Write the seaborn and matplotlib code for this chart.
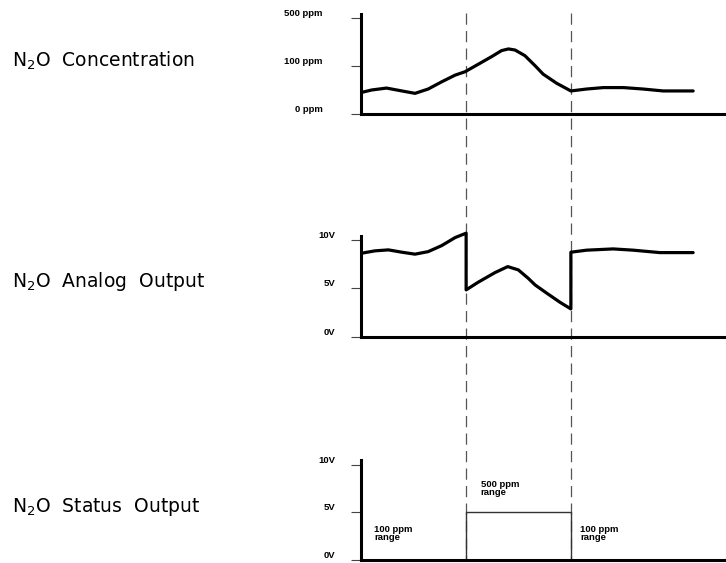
import numpy as np
import pandas as pd
import seaborn as sns
import matplotlib
matplotlib.use("Agg")
import matplotlib.pyplot as plt
from matplotlib.lines import Line2D
import matplotlib.transforms as mtransforms

# ---------------- data ----------------
conc_t = [0.2, 2.9, 7.0, 11.2, 14.8, 18.4, 22.1, 25.8, 28.5, 32.1, 35.8, 38.5, 40.4,
          42.2, 44.9, 47.7, 49.9, 53.6, 57.5, 61.8, 66.4, 71.9, 77.3, 82.8, 91.0]
conc_ppm = [45, 50, 54, 48, 43, 52, 67, 81, 88, 114, 178, 228, 242,
            233, 186, 102, 83, 64, 48, 52, 55, 55, 52, 48, 48]

analog_t = [0.2, 3.8, 7.5, 11.2, 14.8, 18.4, 22.1, 25.8, 28.8, 28.8, 32.1, 36.7, 40.2,
            43.1, 45.8, 47.7, 50.9, 54.5, 57.5, 57.5, 61.8, 69.1, 74.6, 81.9, 91.0]
analog_v = [8.63, 8.87, 8.97, 8.73, 8.53, 8.79, 9.41, 10.24, 10.69, 4.85, 5.64, 6.63, 7.25,
            6.91, 6.05, 5.36, 4.51, 3.58, 2.89, 8.73, 8.94, 9.07, 8.94, 8.69, 8.69]

status_t = [0, 28.8, 57.5, 100]
status_v = [0, 5, 0, 0]

range_switch_t = [28.8, 57.5]

conc_ticks = [0, 100, 500]
conc_ticklabels = ["0 ppm", "100 ppm", "500 ppm"]
volt_ticks = [0, 5, 10]
volt_ticklabels = ["0V", "5V", "10V"]

row_titles = [r"N$_2$O  Concentration", r"N$_2$O  Analog  Output", r"N$_2$O  Status  Output"]
range_notes = ["100 ppm\nrange", "500 ppm\nrange", "100 ppm\nrange"]
range_note_t = [3.6, 32.8, 60.0]
range_note_v = [3.7, 8.4, 3.7]

# ---------------- styling ----------------
sns.set_style("white")
plt.rcParams["font.family"] = ["DejaVu Sans"]

fig = plt.figure(figsize=(7.26, 5.63), dpi=100)
W, H = 726.0, 563.0

def axes_px(left, top, right, bottom):
    return fig.add_axes([left / W, 1 - bottom / H, (right - left) / W, (bottom - top) / H])

ax1 = axes_px(361, 14, 726, 114)
ax2 = axes_px(361, 236, 726, 337)
ax3 = axes_px(361, 460, 726, 560)

def fwd(y):
    y = np.asarray(y, dtype=float)
    return np.where(y <= 100, y / 100.0, 1 + (y - 100) / 400.0)

def inv(v):
    v = np.asarray(v, dtype=float)
    return np.where(v <= 1, v * 100.0, 100 + (v - 1) * 400.0)

ax1.set_yscale("function", functions=(fwd, inv))

sns.lineplot(x=conc_t, y=conc_ppm, ax=ax1, estimator=None, sort=False,
             color="black", lw=2.3, clip_on=False)
sns.lineplot(x=analog_t, y=analog_v, ax=ax2, estimator=None, sort=False,
             color="black", lw=2.3, clip_on=False)
sns.lineplot(x=status_t, y=status_v, ax=ax3, estimator=None, sort=False,
             color="#333333", lw=1.0, drawstyle="steps-post", clip_on=False)

ax1.set_ylim(0, 533)
ax2.set_ylim(0, 10.4)
ax3.set_ylim(0, 10.5)

tick_font = dict(family="Liberation Sans", weight="bold", size=6.8, color="black")
for ax, ticks, labels, pad in [(ax1, conc_ticks, conc_ticklabels, 20),
                               (ax2, volt_ticks, volt_ticklabels, 11),
                               (ax3, volt_ticks, volt_ticklabels, 11)]:
    ax.set_xlim(0, 100)
    ax.set_xticks([])
    ax.set_yticks(ticks)
    ax.set_yticklabels(labels, fontdict=tick_font)
    ax.yaxis.set_minor_locator(matplotlib.ticker.NullLocator())
    for lab in ax.get_yticklabels():
        lab.set_verticalalignment("bottom")
    ax.tick_params(axis="y", which="major", left=True, length=7.5, width=0.8,
                   color="#444444", pad=pad, direction="out", labelcolor="black")
    ax.set_xlabel("")
    ax.set_ylabel("")
    for s in ["top", "right"]:
        ax.spines[s].set_visible(False)
    for s in ["left", "bottom"]:
        ax.spines[s].set_linewidth(2.2)
        ax.spines[s].set_color("black")
    ax.patch.set_alpha(0)

# range notes in status panel
for txt, tx, ty in zip(range_notes, range_note_t, range_note_v):
    ax3.text(tx, ty, txt, ha="left", va="top", linespacing=0.85, **tick_font)

# dashed range-switch lines spanning all panels
trans = mtransforms.blended_transform_factory(ax1.transData, fig.transFigure)
for xt in range_switch_t:
    fig.add_artist(Line2D([xt, xt], [1 - 13 / H, 1 - 559 / H], transform=trans,
                          color="#555555", lw=0.9, linestyle=(0, (9, 5)), zorder=0))

# row titles
for title, ybase in zip(row_titles, [66.7, 287, 511.7]):
    fig.text(12 / W, 1 - ybase / H, title, ha="left", va="baseline",
             fontsize=13.5, color="black")

fig.savefig("out.png", dpi=100)
